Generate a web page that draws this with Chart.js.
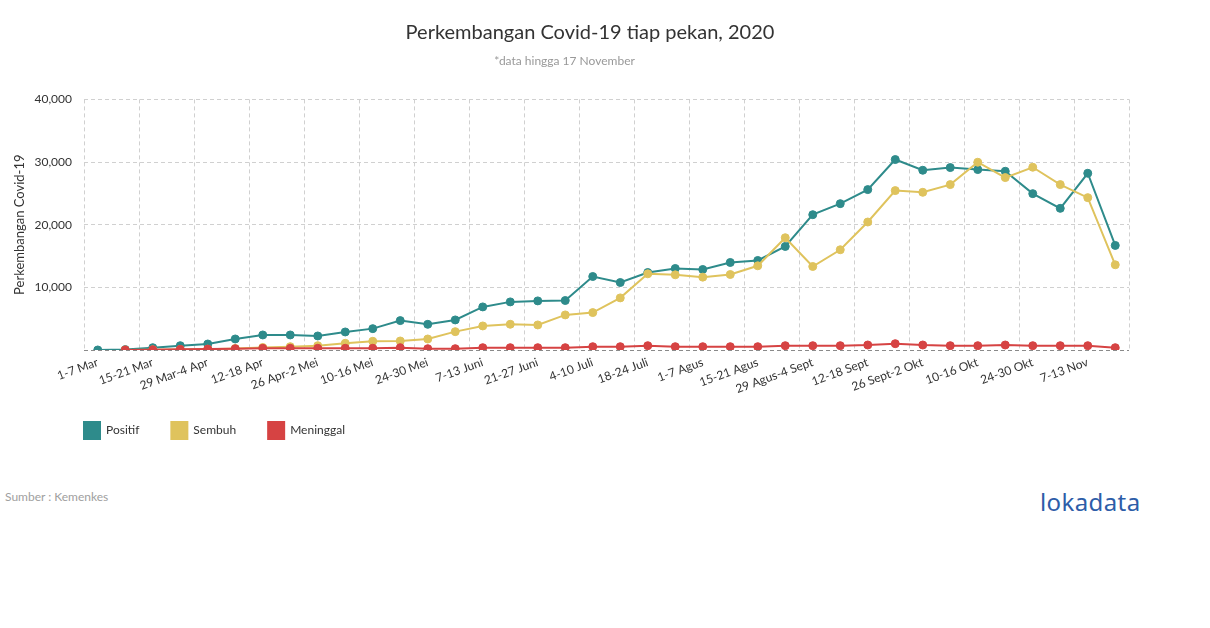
<!DOCTYPE html>
<html>
<head>
<meta charset="utf-8">
<script src="https://cdn.jsdelivr.net/npm/chart.js@4.4.0/dist/chart.umd.min.js"></script>
<style>
  body { margin: 0; background: #fff; font-family: Lato, sans-serif; overflow: hidden; }
  #wrap { position: absolute; left: 0; top: 0; width: 1180px; height: 460px; }
  #source { position: absolute; left: 5px; top: 489px; font-size: 12px; color: #a0a0a0; }
  #logo { position: absolute; left: 1040px; top: 485px; font-size: 24px; color: #2d5da8; font-family: "Noto Sans", sans-serif; letter-spacing: 0.4px; }
</style>
</head>
<body>
<div id="wrap"><canvas id="chart"></canvas></div>
<div id="source">Sumber : Kemenkes</div>
<div id="logo">lokadata</div>
<script>
const weeks = [
  "1-7 Mar", "8-14 Mar", "15-21 Mar", "22-28 Mar", "29 Mar-4 Apr", "5-11 Apr",
  "12-18 Apr", "19-25 Apr", "26 Apr-2 Mei", "3-9 Mei", "10-16 Mei", "17-23 Mei",
  "24-30 Mei", "31 Mei-6 Juni", "7-13 Juni", "14-20 Juni", "21-27 Juni", "28 Juni-3 Juli",
  "4-10 Juli", "11-17 Juli", "18-24 Juli", "25-31 Juli", "1-7 Agus", "8-14 Agus",
  "15-21 Agus", "22-28 Agus", "29 Agus-4 Sept", "5-11 Sept", "12-18 Sept", "19-25 Sept",
  "26 Sept-2 Okt", "3-9 Okt", "10-16 Okt", "17-23 Okt", "24-30 Okt", "31 Okt-6 Nov",
  "7-13 Nov", "14-17 Nov"
];

const positif = [
  4, 65, 370, 690, 960, 1760, 2400, 2400, 2240, 2880, 3410, 4690,
  4100, 4800, 6880, 7680, 7840, 7900, 11730, 10770, 12370, 13010, 12850, 13970,
  14290, 16530, 21600, 23360, 25600, 30400, 28690, 29120, 28800, 28530, 24960, 22610,
  28210, 16690
];

const sembuh = [
  null, 0, 30, 70, 120, 250, 400, 530, 690, 1070, 1390, 1440,
  1760, 2930, 3840, 4110, 4000, 5600, 5970, 8320, 12160, 12000, 11630, 12050,
  13440, 17920, 13330, 16000, 20430, 25440, 25170, 26400, 29970, 27520, 29170, 26400,
  24320, 13600
];

const meninggal = [
  null, 5, 45, 100, 150, 200, 270, 270, 270, 270, 280, 370,
  210, 210, 370, 370, 370, 370, 530, 530, 690, 530, 530, 530,
  530, 690, 690, 690, 800, 1010, 800, 690, 690, 800, 690, 690,
  690, 370
];

const yTicks = [0, 10000, 20000, 30000, 40000];

const colors = { positif: "#2e8b8b", sembuh: "#dfc35d", meninggal: "#d64343" };

Chart.defaults.font.family = "Lato, sans-serif";
Chart.defaults.color = "#333";

function series(label, data, color, order) {
  return {
    label: label,
    data: data,
    order: order,
    borderColor: color,
    backgroundColor: color,
    pointBackgroundColor: color,
    pointBorderColor: color,
    borderWidth: 2,
    pointRadius: 4,
    pointBorderWidth: 1,
    tension: 0,
  };
}

// legend sits under the plot's left edge, 72px below it; titles centred on the whole canvas
const boxShift = {
  id: "boxShift",
  afterLayout(chart) {
    const lg = chart.legend;
    const pad = lg.options.labels.padding;
    const dx = chart.chartArea.left - pad - lg.left;
    const dy = chart.chartArea.bottom + 72 - pad - lg.top;
    lg.left += dx;
    lg.right += dx;
    lg.top += dy;
    lg.bottom += dy;
    [chart.titleBlock, chart.$subtitle].forEach((b) => {
      if (b) { b.left = 0; b.right = chart.width; }
    });
  },
};

new Chart(document.getElementById("chart"), {
  type: "line",
  data: {
    labels: weeks,
    datasets: [
      series("Positif", positif, colors.positif, 3),
      series("Sembuh", sembuh, colors.sembuh, 2),
      series("Meninggal", meninggal, colors.meninggal, 1),
    ],
  },
  options: {
    responsive: true,
    maintainAspectRatio: false,
    animation: false,
    layout: { padding: { left: 0, right: 51, top: 10, bottom: 3 } },
    plugins: {
      title: {
        display: true,
        text: "Perkembangan Covid-19 tiap pekan, 2020",
        color: "#333",
        font: { size: 20, weight: "normal" },
        padding: { top: 11, bottom: 5 },
      },
      subtitle: {
        display: true,
        text: "*data hingga 17 November",
        color: "#999",
        font: { size: 12 },
        padding: { top: 4, bottom: 31 },
      },
      legend: {
        position: "bottom",
        align: "start",
        labels: {
          boxWidth: 16,
          boxHeight: 17,
          padding: 32,
          color: "#333",
          font: { size: 12 },
          sort: (a, b) => a.datasetIndex - b.datasetIndex,
        },
      },
      tooltip: { enabled: false },
    },
    scales: {
      x: {
        offset: true,
        afterFit(scale) { scale.height = 48; },
        border: { display: false, dash: [4, 3] },
        grid: {
          offset: true,
          drawTicks: false,
          color: (ctx) => (ctx.index % 2 ? "rgba(0,0,0,0)" : "#d0d0d0"),
        },
        ticks: {
          autoSkip: false,
          minRotation: 20,
          maxRotation: 20,
          padding: 5,
          color: "#333",
          font: { size: 12 },
          callback: (v, i) => (i % 2 ? "" : weeks[i]),
        },
      },
      y: {
        min: yTicks[0],
        max: yTicks[yTicks.length - 1],
        afterFit(scale) { scale.width = 84; },
        afterBuildTicks(scale) { scale.ticks = yTicks.map((v) => ({ value: v })); },
        border: { display: false, dash: [4, 3] },
        grid: {
          drawTicks: false,
          color: (ctx) => (ctx.tick && ctx.tick.value === 0 ? "#8a8a8a" : "#d0d0d0"),
        },
        ticks: {
          padding: 12,
          color: "#333",
          font: { size: 12 },
          callback: (v) => (v === 0 ? "" : v.toLocaleString("en-US")),
        },
        title: {
          display: true,
          text: "Perkembangan Covid-19",
          color: "#333",
          font: { size: 13 },
          padding: { top: 12, bottom: 4 },
        },
      },
    },
  },
  plugins: [boxShift],
});
</script>
</body>
</html>
